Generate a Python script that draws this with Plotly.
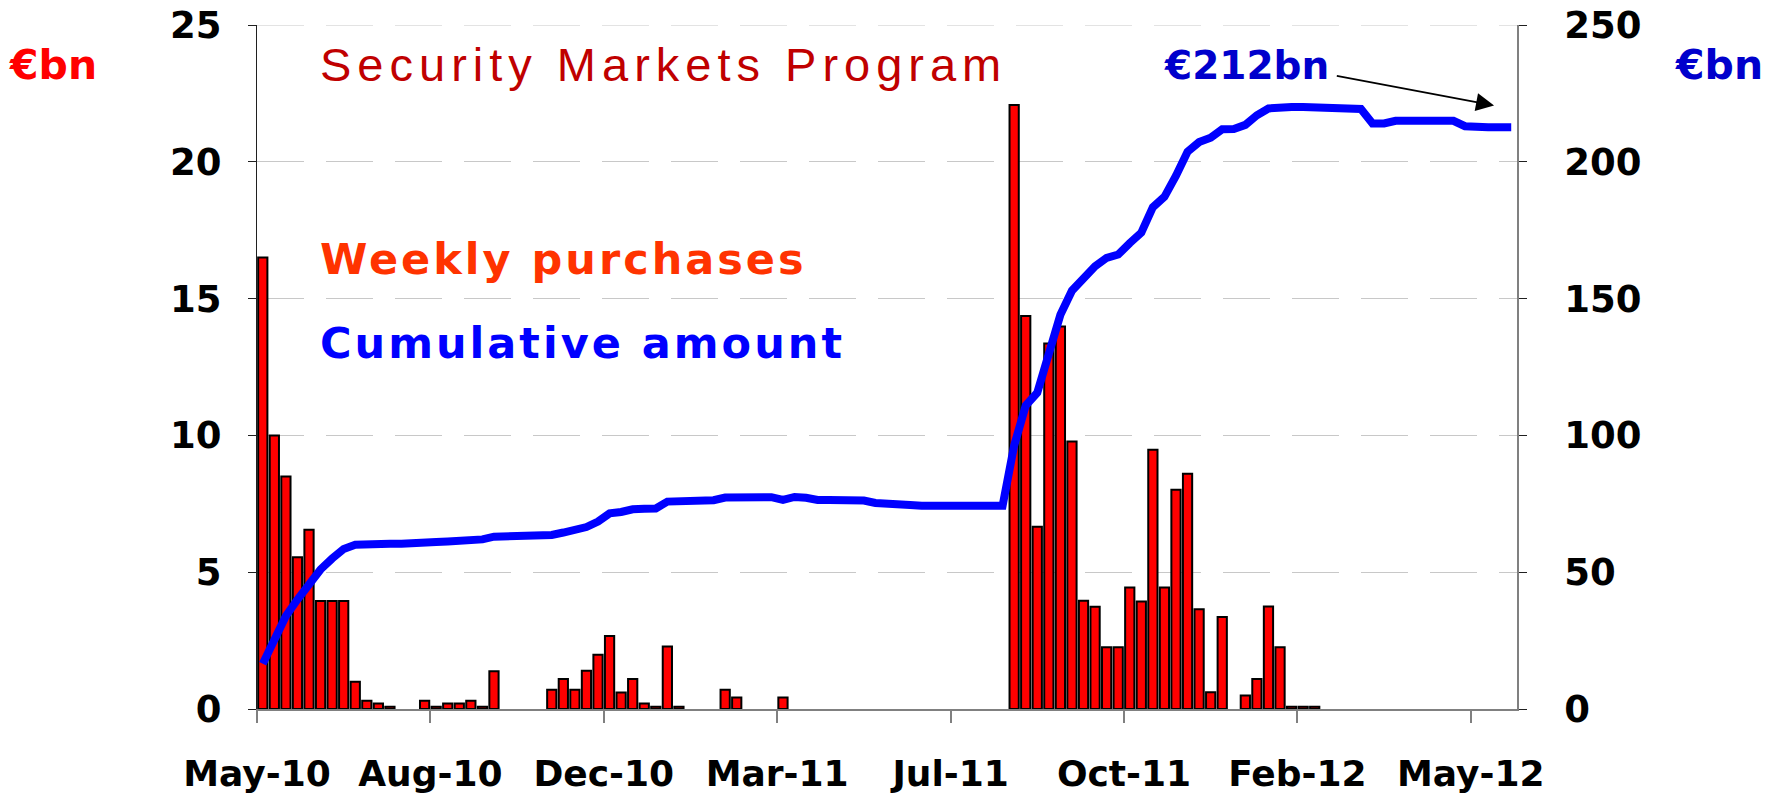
import plotly.graph_objects as go

# ---- data (weekly, starting mid-May 2010) ----
weekly_purchases = [
    16.5, 10.0, 8.5, 5.55, 6.55, 3.95, 3.95, 3.95, 1.0, 0.3,
    0.2, 0.08, 0, 0, 0.3, 0.08, 0.2, 0.2, 0.3, 0.08,
    1.38, 0, 0, 0, 0, 0.7, 1.1, 0.7, 1.4, 1.98,
    2.67, 0.6, 1.1, 0.2, 0.08, 2.28, 0.08, 0, 0, 0,
    0.7, 0.42, 0, 0, 0, 0.42, 0, 0, 0, 0,
    0, 0, 0, 0, 0, 0, 0, 0, 0, 0,
    0, 0, 0, 0, 0, 22.08, 14.36, 6.66, 13.36, 13.98,
    9.78, 3.96, 3.74, 2.26, 2.26, 4.44, 3.93, 9.48, 4.44, 8.01,
    8.6, 3.65, 0.61, 3.36, 0, 0.49, 1.1, 3.75, 2.26, 0.08,
    0.08, 0.08, 0, 0, 0, 0, 0, 0, 0, 0,
    0, 0, 0, 0, 0, 0, 0, 0, 0,
]

cumulative_amount = [
    16.5, 26, 34, 40, 46, 51, 55, 58.5, 60, 60.3,
    60.4, 60.4, 60.4, 60.4, 61, 61, 61.2, 61.4, 61.9, 62,
    63, 63, 63, 63, 63, 63.6, 64.5, 65.3, 66.5, 68.5,
    71.5, 72, 73, 73.2, 73.3, 75.8, 76, 76, 76, 76.3,
    77.3, 77.5, 77.5, 77.5, 77.4, 76.4, 77.5, 77.2, 76.4, 76.4,
    76.4, 76.4, 76.2, 75.3, 75.3, 75.3, 74.6, 74.3, 74.3, 74.3,
    74.3, 74.3, 74.3, 74.3, 74.3, 96.3, 110.9, 115.6, 129.4, 144.1,
    152.9, 157.2, 161.8, 164.9, 166.1, 170.3, 174.1, 183.4, 187.2, 194.9,
    203.7, 207.2, 208.8, 211.9, 212, 213.5, 217, 219.5, 220, 220,
    220, 220, 220, 220, 219.5, 219.3, 214, 214, 215, 215,
    215, 215, 215, 215, 213, 212.6, 212.6, 212.6, 212.6,
]

tick_weeks = [0, 15, 30, 45, 60, 75, 90, 105]
tick_labels = ["May-10", "Aug-10", "Dec-10", "Mar-11", "Jul-11", "Oct-11", "Feb-12", "May-12"]

n_weeks = len(weekly_purchases)
week_centers = [i + 0.5 for i in range(n_weeks)]
bar_vals = [v if v > 0 else None for v in weekly_purchases]

FONT = "DejaVu Sans"
TITLE_FONT = "Liberation Sans"
Y_MAX = 25

fig = go.Figure()
fig.add_trace(go.Bar(
    x=week_centers, y=bar_vals, width=0.8,
    marker=dict(color="#FF0000", line=dict(color="#000000", width=2)),
    yaxis="y", showlegend=False, hoverinfo="skip",
))
fig.add_trace(go.Scatter(
    x=week_centers, y=cumulative_amount, mode="lines",
    line=dict(color="#0000FF", width=8),
    yaxis="y2", showlegend=False, hoverinfo="skip",
))

fig.update_layout(
    width=1771, height=799,
    margin=dict(l=257, r=254, t=25, b=90),
    paper_bgcolor="white", plot_bgcolor="white",
    font=dict(family=FONT, color="black"),
    hovermode=False,
    xaxis=dict(
        range=[0, n_weeks], tickmode="array", tickvals=tick_weeks, ticktext=tick_labels,
        showgrid=False, zeroline=False, showline=True, linecolor="#808080", linewidth=1.5,
        ticks="outside", ticklen=12, tickcolor="#808080", tickwidth=1.5,
        tickfont=dict(family=FONT, size=36, color="black", weight="bold"),
        ticklabelstandoff=20, automargin=False,
    ),
    yaxis=dict(
        range=[0, Y_MAX], tick0=0, dtick=5,
        showgrid=True, gridcolor="#C8C8C8", gridwidth=1.2, griddash="47px,22px",
        zeroline=False, showline=True, linecolor="#202020", linewidth=1.2,
        ticks="outside", ticklen=8, tickcolor="#202020",
        tickfont=dict(family=FONT, size=37, color="black", weight="bold"),
        ticklabelstandoff=19, automargin=False, ticklabeloverflow="allow",
    ),
    yaxis2=dict(
        range=[0, 250], tick0=0, dtick=50, overlaying="y", side="right",
        showgrid=False, zeroline=False, showline=True, linecolor="#808080", linewidth=1.5,
        ticks="outside", ticklen=8, tickcolor="#202020",
        tickfont=dict(family=FONT, size=37, color="black", weight="bold"),
        ticklabelstandoff=30, automargin=False, ticklabeloverflow="allow",
    ),
    shapes=[
        dict(type="line", xref="paper", yref="y", x0=0, x1=1, y0=Y_MAX, y1=Y_MAX,
             line=dict(color="#C8C8C8", width=1.2, dash="47px,22px"), layer="below"),
    ],
    annotations=[
        dict(text='<span style="letter-spacing:6px">Security Markets Program</span>',
             xref="paper", yref="paper", x=0.0483, y=0.9427, xanchor="left", yanchor="middle",
             showarrow=False, font=dict(family=TITLE_FONT, size=47, color="#C00000")),
        dict(text='<span style="letter-spacing:3px"><b>Weekly purchases</b></span>',
             xref="paper", yref="paper", x=0.0483, y=0.6574, xanchor="left", yanchor="middle",
             showarrow=False, font=dict(family=FONT, size=43, color="#FF3300")),
        dict(text='<span style="letter-spacing:3px"><b>Cumulative amount</b></span>',
             xref="paper", yref="paper", x=0.0483, y=0.5346, xanchor="left", yanchor="middle",
             showarrow=False, font=dict(family=FONT, size=43, color="#0000FF")),
        dict(text="<b>€212bn</b>",
             xref="paper", yref="paper", x=0.7185, y=0.9412, xanchor="left", yanchor="middle",
             showarrow=False, font=dict(family=FONT, size=39, color="#0000CC")),
        dict(text="", xref="x domain", yref="y domain", x=0.9818, y=0.8823,
             axref="x domain", ayref="y domain", ax=0.8558, ay=0.9261,
             showarrow=True, arrowhead=2, arrowsize=2, arrowwidth=1.8, arrowcolor="black"),
        dict(text="<b>€bn</b>",
             xref="paper", yref="paper", x=-0.162, y=0.941, xanchor="center", yanchor="middle",
             showarrow=False, font=dict(family=FONT, size=41, color="#FF0000")),
        dict(text="<b>€bn</b>",
             xref="paper", yref="paper", x=1.160, y=0.941, xanchor="center", yanchor="middle",
             showarrow=False, font=dict(family=FONT, size=41, color="#0000CC")),
    ],
)

fig.write_html("out.html", config={"displayModeBar": False},
               post_script="document.body.style.margin='0';")
